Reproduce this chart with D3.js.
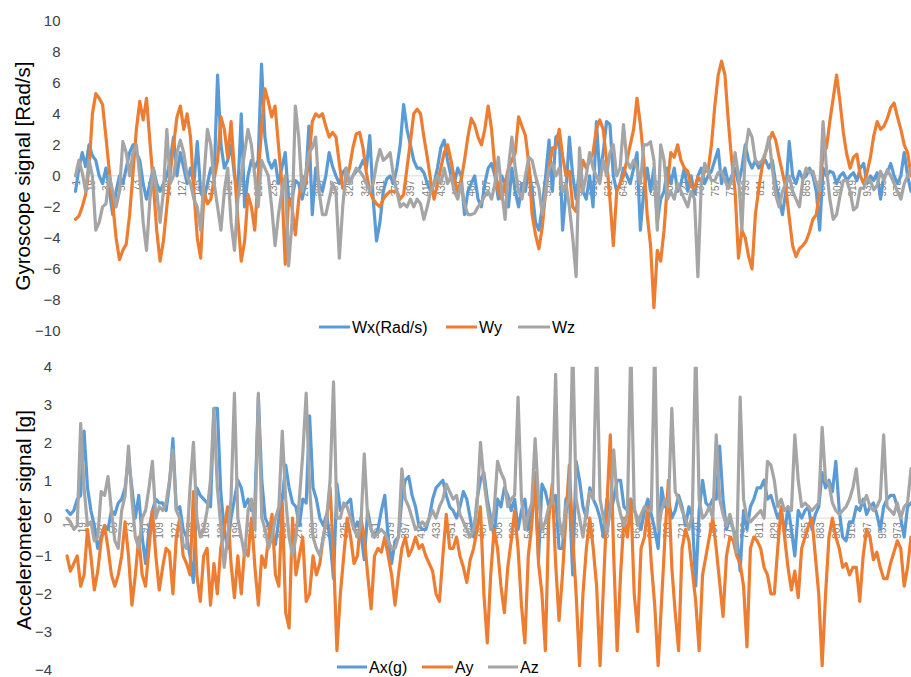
<!DOCTYPE html>
<html>
<head>
<meta charset="utf-8">
<script src="https://cdn.jsdelivr.net/npm/d3@7"></script>
<style>
  body { margin: 0; background: #ffffff; }
  svg text { font-family: "Liberation Sans", Arial, sans-serif; }
</style>
</head>
<body>
<svg id="chart" width="911" height="677"></svg>
<script>
// ---- data -------------------------------------------------------------
// One stored value every `sampleStep` samples (sample 1, 5, 9, ... 989).
const sampleStep = 4;
const sampleCount = 989;

const xTickLabels = [1,19,37,55,73,91,109,127,145,163,181,199,217,235,253,271,289,307,325,343,
  361,379,397,415,433,451,469,487,505,523,541,559,577,595,613,631,649,667,685,703,721,739,757,
  775,793,811,829,847,865,883,901,919,937,955,973];

const gyroTicks = [-10,-8,-6,-4,-2,0,2,4,6,8,10];
const accTicks = [-4,-3,-2,-1,0,1,2,3,4];

const gyroNames = ["Wx(Rad/s)", "Wy", "Wz"];
const accNames = ["Ax(g)", "Ay", "Az"];

// Gyroscope (rad/s)
const wx = [
  -1.0,0.5,1.5,0.6,2.0,1.3,1.0,0.0,-0.5,0.5,
  -1.0,-2.5,-1.0,0.0,-0.5,0.5,1.5,2.0,1.5,1.0,
  -0.5,-1.5,-0.5,0.5,-0.5,-1.0,-0.5,0.0,1.0,2.5,
  0.0,1.5,0.5,-0.5,0.5,-0.5,2.2,-1.0,-1.5,-0.5,
  0.5,0.0,6.5,2.0,0.5,1.0,2.0,0.0,-1.0,4.0,
  -2.0,0.0,1.0,0.5,1.0,7.2,2.5,1.0,0.5,1.0,
  -0.5,0.5,1.5,-1.5,-1.5,-0.3,-0.5,-1.5,-0.5,3.2,
  -2.5,0.5,-0.5,-1.0,0.0,1.5,0.6,0.0,-0.5,0.2,
  0.5,-0.5,0.0,0.3,0.5,1.0,0.5,2.6,-1.5,-4.2,
  -3.0,-1.0,-0.2,0.0,-0.5,0.5,2.0,4.6,3.0,2.0,
  1.0,0.5,0.5,0.2,-0.5,-1.0,-0.5,0.5,1.8,2.3,
  1.0,0.0,-0.5,0.5,
  0.0,-2.5,-1.0,-0.5,0.0,-1.5,
  -2.0,-0.5,0.5,0.8,0.0,-1.5,0.0,-0.5,-2.0,0.5,
  -1.0,-2.0,-0.5,-1.0,0.5,-1.0,-3.0,-3.5,-2.0,0.0,
  2.3,-1.0,2.5,2.7,-3.5,-1.0,2.5,0.0,-1.5,0.5,
  -1.0,-1.5,0.0,-2.0,3.5,0.0,1.5,3.5,3.3,0.0,
  -1.0,-0.5,0.5,0.0,-0.5,0.5,1.5,-3.5,-1.0,0.5,
  -1.0,0.5,-3.0,-1.5,-1.0,0.5,-0.5,0.5,-1.0,-0.5,
  0.5,-1.0,0.0,-1.2,0.0,0.5,-0.5,0.0,0.3,1.0,
  1.7,-0.5,0.5,-0.5,0.0,0.5,-0.5,0.5,2.0,1.0,
  0.5,1.0,0.5,0.8,1.0,0.5,1.0,-0.5,-1.5,-2.5,
  -1.0,2.2,0.0,-0.5,0.3,-0.2,0.0,0.5,0.0,-1.0,
  -3.5,0.5,0.0,0.3,0.2,-0.5,0.0,0.2,-0.3,0.0,
  0.2,-0.3,0.5,0.8,-0.5,0.0,-0.3,0.2,-1.5,0.0,
  0.2,0.8,0.0,-0.5,0.0,1.5,0.0,-1.0
];
const wy = [
  -2.8,-2.6,-2.0,-1.2,0.5,4.0,5.3,5.0,4.6,2.5,
  0.3,-1.8,-4.0,-5.4,-4.8,-4.4,-2.5,0.2,3.0,4.8,
  3.6,5.0,2.2,-0.5,-3.5,-5.5,-4.2,-2.0,0.2,2.0,
  3.8,4.5,3.0,4.0,2.5,-1.0,-4.0,-5.3,-1.0,-1.8,
  -1.5,-0.2,1.0,3.8,3.0,1.2,3.5,0.3,-2.8,-5.5,
  -4.2,-1.2,-2.0,-3.5,0.0,3.0,5.6,4.8,3.8,4.5,
  2.0,-0.5,-5.7,-1.5,-2.0,-3.8,-1.5,0.0,-0.5,1.0,
  3.5,4.0,3.8,4.0,3.2,2.5,2.8,2.5,0.8,-0.8,
  -0.3,0.5,1.8,2.7,2.8,1.8,0.2,-1.0,-1.5,-1.8,
  -2.0,-1.5,-1.2,-1.0,-1.0,-1.0,-1.5,-1.2,0.5,2.2,
  4.0,4.3,4.0,2.5,1.2,-0.3,-1.5,-0.5,0.5,1.5,
  2.0,1.0,-0.2,-1.0,
  -0.3,1.0,2.5,3.7,3.3,2.5,
  2.0,3.0,4.5,3.0,0.5,-1.0,-1.5,-0.5,0.5,1.0,
  1.5,3.8,3.2,2.6,0.8,-2.5,-3.8,-4.7,-3.3,-1.0,
  0.5,1.8,1.8,3.0,1.3,0.0,0.3,-2.0,-2.3,-0.5,
  1.0,0.5,1.0,1.5,3.0,3.6,3.0,1.0,-1.5,-4.5,
  -1.0,-0.5,0.0,1.0,2.0,3.0,5.0,3.3,1.0,-2.5,
  -4.5,-8.5,-4.8,-5.5,-3.5,-0.5,1.5,1.2,2.0,1.0,
  0.5,0.3,-0.7,-0.8,-0.1,-0.3,0.3,0.3,2.0,4.5,
  6.5,7.4,6.5,3.5,1.0,-1.0,-5.3,-3.5,-4.0,-5.2,
  -6.0,-2.5,-0.8,0.6,1.5,2.2,2.8,2.3,1.2,0.2,
  -0.8,-2.7,-4.5,-5.2,-4.7,-4.5,-4.2,-3.6,-2.8,-2.5,
  -1.0,1.5,1.8,3.5,5.0,6.5,4.8,2.8,1.4,0.5,
  1.2,1.4,0.0,-0.5,0.2,1.2,2.6,3.5,3.0,3.2,
  3.7,4.4,4.7,3.8,3.0,2.0,1.5,0.0
];
const wz = [
  0.0,1.0,0.2,-1.0,1.0,0.0,-3.5,-3.0,-2.0,-1.8,
  0.0,-1.0,-2.0,-1.0,2.2,1.5,0.0,1.5,2.0,0.0,
  -3.0,-4.8,-1.5,0.5,-1.0,-3.0,-1.0,3.0,-0.5,0.0,
  1.5,2.3,1.5,0.0,-0.5,-1.5,-2.0,-3.5,0.0,3.0,
  2.0,-0.5,-2.0,-3.5,-1.0,0.5,-3.0,-4.8,-1.5,0.0,
  1.5,3.0,2.0,0.0,-2.0,1.0,0.5,0.0,-2.0,-4.5,
  -2.5,-1.0,0.0,-5.8,-3.0,4.5,2.5,-1.0,0.0,1.5,
  1.8,2.5,-1.0,-2.5,-2.5,-1.5,-0.5,-1.0,-5.3,-2.0,
  0.5,-0.5,0.0,0.5,0.3,0.0,-0.5,-1.0,-0.5,0.8,
  1.7,1.0,1.2,1.5,0.0,-1.0,-2.0,-1.8,-2.0,-1.5,
  -2.0,-1.5,-1.8,-2.8,-2.0,-1.0,-0.5,0.0,-0.5,0.5,
  -0.5,0.0,-1.0,-1.5,
  -0.5,-1.8,-2.5,-2.5,-2.4,-2.0,
  -1.7,-1.3,-1.0,-1.5,-0.5,1.2,-1.0,-2.8,0.5,2.5,
  0.5,-1.0,-1.5,0.0,1.2,1.0,0.0,-0.8,-2.5,-1.0,
  0.5,0.8,0.0,0.5,-1.0,-0.5,-2.0,-4.0,-6.5,1.8,
  -1.0,0.0,1.5,0.5,0.0,-0.5,1.0,0.0,1.5,2.0,
  0.0,0.5,3.3,1.0,0.5,1.0,0.5,-0.5,2.0,2.0,
  2.2,1.0,-3.5,2.0,1.0,-1.5,-1.0,-1.5,-0.5,-1.0,
  -1.5,-2.0,-1.0,-1.5,-6.5,-0.5,0.8,0.3,-0.3,-0.3,
  0.2,0.3,-0.3,-0.8,-0.3,1.5,0.0,-3.5,1.5,3.0,
  2.5,1.0,0.8,1.0,1.5,2.5,0.5,-1.2,-2.0,-1.0,
  -0.5,0.0,-1.0,-1.5,-2.0,-0.3,0.5,0.2,0.3,-0.5,
  -1.0,3.5,0.5,-1.5,-2.8,-2.5,-1.3,-0.3,-0.3,-1.0,
  -2.2,-2.0,-0.8,-0.8,-0.2,-0.3,-0.9,-0.6,0.3,-0.3,
  0.4,0.0,-0.5,-1.0,-1.5,-0.5,0.0,0.5
];

// Accelerometer (g)
const ax = [
  0.2,0.1,0.2,0.5,0.6,2.3,0.8,0.2,-0.2,-0.8,
  -0.5,-0.2,-0.3,0.2,0.1,0.4,0.5,0.8,1.6,0.8,
  0.0,0.6,-0.5,-1.2,-0.3,0.2,0.5,0.4,0.4,0.2,
  0.9,2.1,0.2,0.3,-0.3,-0.5,-1.0,-1.7,0.8,0.6,
  0.5,0.4,0.3,2.9,2.9,0.7,-0.3,-0.8,0.0,0.5,
  1.0,0.8,0.3,0.5,0.2,0.4,3.2,1.0,0.0,-0.2,
  -0.5,-0.7,0.0,0.5,1.4,0.8,0.4,0.3,-0.2,0.5,
  0.4,2.7,0.8,0.5,0.0,-0.2,0.1,-0.6,-1.6,0.9,
  0.2,0.3,0.4,0.5,-0.3,-0.1,-0.4,-1.1,0.2,-0.3,
  -0.5,-0.3,0.2,0.6,-0.5,-1.2,-0.6,-0.5,0.5,1.0,
  1.1,0.6,0.3,-0.2,-0.3,-0.3,0.0,0.5,0.8,0.9,
  1.0,0.6,0.3,0.2,0.0,
  0.3,0.7,0.5,0.0,-0.5,
  0.5,1.0,1.2,0.5,0.0,-0.5,0.5,0.3,0.8,0.6,
  0.2,0.5,-0.3,0.2,0.5,-0.3,0.2,0.8,-1.1,0.9,
  0.7,0.3,0.4,0.6,-0.8,-0.8,0.5,0.6,-1.5,1.5,
  1.0,0.3,0.0,0.8,0.5,0.3,0.0,-0.5,0.5,0.1,
  0.5,1.0,1.0,0.3,0.2,0.5,0.2,0.0,-0.3,0.2,
  0.5,0.1,-0.3,-0.8,0.8,0.3,0.5,0.0,0.2,0.6,
  0.3,-0.2,0.3,0.0,-1.8,0.2,1.0,0.4,0.3,0.5,
  0.5,1.9,0.5,-0.3,0.0,-0.3,-0.5,-1.4,0.2,-0.3,
  0.3,0.5,0.8,0.8,1.0,0.5,0.6,0.3,0.0,0.2,
  -0.4,0.3,-0.3,-1.0,0.2,0.0,0.2,0.3,-0.3,0.1,
  0.3,1.2,0.8,1.0,0.7,1.5,0.2,-0.5,-0.6,-0.1,
  -0.1,0.3,0.2,0.5,0.1,0.3,0.4,0.1,-0.3,0.3,
  0.5,0.6,0.6,0.3,0.0,-0.5,0.3,0.4
];
const ay = [
  -1.0,-1.4,-1.2,-1.0,-1.8,-1.5,-0.3,-1.0,-1.9,-1.4,
  -0.6,-0.2,-0.8,-1.5,-1.8,-1.5,-1.0,-0.1,-1.0,-2.3,
  -1.5,-0.5,-1.5,-1.8,-0.8,0.2,-1.0,-1.9,-1.3,-0.8,
  -0.9,-2.0,-0.5,0.0,-1.0,-1.2,-1.5,0.7,-1.5,-2.2,
  -1.0,-0.8,-2.3,-1.2,-2.0,-0.8,-0.3,0.3,-1.2,-2.1,
  -1.0,-2.0,-0.8,-1.0,0.0,-1.3,-2.3,-1.0,-1.3,-0.5,
  0.1,-1.5,-1.8,0.4,-2.5,-2.9,0.0,-1.5,-1.0,-0.5,
  -2.2,-2.0,-1.0,-1.5,-1.2,-0.5,0.0,0.8,-1.0,-3.5,
  -2.0,-1.0,0.0,-0.5,-1.2,-1.0,0.0,-0.5,-1.5,-2.4,
  -1.0,-0.8,-0.9,-0.5,-1.0,-1.5,-2.3,-1.5,-0.8,-0.5,
  -1.0,-0.8,-0.5,-0.8,-0.7,-1.0,-1.2,-1.4,-2.0,-2.2,
  -1.0,0.1,-0.8,-0.8,-0.5,
  -1.0,-1.3,-1.7,-1.1,-0.8,
  -0.3,0.3,-2.0,-3.3,-1.5,-0.3,-0.8,-1.8,-2.5,-1.3,
  -0.6,0.2,-0.8,-2.3,-3.3,-1.0,-0.2,1.2,-1.2,-2.0,
  -3.5,0.0,0.9,-1.2,-2.7,-1.5,0.0,1.4,-0.5,-2.0,
  -3.9,-2.0,-0.8,0.0,-0.8,-1.8,-3.9,-1.8,0.3,2.2,
  -1.0,-3.5,-1.5,0.0,-0.5,0.5,-2.0,-3.0,-0.8,-0.5,
  0.3,-1.2,-2.3,-3.9,-2.2,-0.5,1.0,-1.3,-2.5,-3.5,
  -0.8,-0.3,-0.6,-1.4,-2.2,-3.5,-1.5,-1.0,-0.5,0.0,
  -0.8,-1.7,-2.6,-1.0,-0.5,-0.6,-1.0,-1.2,-1.8,-3.4,
  -0.8,-0.5,-0.6,-0.8,-1.3,-1.5,-2.0,-2.0,-0.8,0.3,
  -0.5,-1.3,-1.9,-1.4,-2.1,-0.8,-0.5,-0.2,0.0,-1.0,
  -2.0,-3.9,-2.0,-0.5,0.0,-0.5,-0.8,-1.3,-1.2,-1.5,
  -1.3,-1.3,-2.2,-1.0,-0.3,-0.5,-1.1,-0.9,-1.3,-1.6,
  -1.6,-1.2,-0.9,-0.6,-0.8,-1.8,-1.3,-0.5
];
const az = [
  0.0,-0.1,-0.3,-0.2,2.5,0.8,-0.2,-0.1,-0.6,-0.5,
  0.7,0.6,1.1,0.2,-0.6,-0.8,0.2,0.6,1.9,0.5,
  -0.5,-0.8,0.0,0.2,0.8,1.5,0.0,0.3,0.2,0.4,
  1.0,1.8,0.2,0.0,-0.7,-0.8,0.8,2.0,0.0,-0.5,
  -0.3,0.2,1.0,2.9,0.8,-0.2,-1.3,-0.5,0.5,3.3,
  0.0,-0.5,-1.0,0.2,0.5,-0.3,3.3,0.0,-0.3,-0.8,
  -0.5,0.0,0.3,2.3,0.5,-0.5,-1.0,-0.5,0.5,1.7,
  3.3,0.8,-0.5,-0.8,-1.0,-0.5,0.0,1.0,3.6,0.0,
  0.0,0.4,0.3,0.0,-0.3,-0.5,-0.2,1.7,0.0,-0.3,
  -0.5,-0.4,-0.3,-0.4,-0.6,-0.8,-0.8,-0.5,1.3,0.5,
  0.3,0.0,-0.3,-0.2,-0.1,-0.2,0.0,0.2,0.0,0.3,
  0.5,0.9,0.7,0.5,0.6,
  0.1,-0.1,-0.3,-0.5,-0.3,
  0.3,2.0,1.0,0.3,-0.3,0.2,1.5,1.2,1.0,0.3,
  0.5,0.6,3.2,0.5,-0.3,0.1,0.4,2.1,0.5,-0.3,
  -0.1,0.3,0.4,3.8,0.0,-0.5,0.3,0.5,4.6,0.5,
  0.0,-0.5,0.2,0.7,0.5,4.6,0.5,0.0,-0.4,0.2,
  1.8,0.5,0.1,-0.2,0.1,4.6,0.3,-0.2,0.1,0.3,
  0.2,0.2,4.6,-0.3,0.2,0.5,0.3,2.9,0.7,0.5,
  0.2,0.0,-0.3,0.1,4.6,0.5,0.0,0.1,0.3,0.0,
  2.2,0.5,0.1,-0.2,0.1,-0.3,-0.9,3.2,0.5,0.0,
  -0.1,0.0,0.1,0.2,0.0,1.5,1.4,1.0,0.3,0.5,
  0.2,0.3,0.2,2.2,1.0,0.3,0.4,0.3,0.2,0.3,
  0.4,2.4,1.0,0.9,0.4,0.2,0.1,0.2,0.3,0.5,
  0.8,1.3,0.4,0.4,0.6,0.3,0.2,0.3,0.5,2.2,
  0.3,0.2,0.1,0.4,0.0,0.3,0.4,1.3
];

// ---- drawing ----------------------------------------------------------
const colors = ["#5B9BD5", "#ED7D31", "#A5A5A5"];
const svg = d3.select("#chart");

const panels = [
  {
    id: "gyro", left: 75.5, right: 911, top: 20.7, bottom: 331,
    domain: [-10, 10], ticks: gyroTicks,
    title: "Gyroscope signal [Rad/s]", titleX: 30, titleY: 176,
    series: [wx, wy, wz], names: gyroNames,
    legendY: 327,
    legend: [{x1: 319, x2: 350}, {x1: 446, x2: 477}, {x1: 518, x2: 550}]
  },
  {
    id: "acc", left: 67, right: 911, top: 366.7, bottom: 669.5,
    domain: [-4, 4], ticks: accTicks,
    title: "Accelerometer signal [g]", titleX: 31, titleY: 520,
    series: [ax, ay, az], names: accNames,
    legendY: 667,
    legend: [{x1: 337, x2: 367}, {x1: 422, x2: 453}, {x1: 488, x2: 518}]
  }
];

panels.forEach(p => {
  const x = d3.scaleLinear().domain([1, sampleCount]).range([p.left, p.right]);
  const y = d3.scaleLinear().domain(p.domain).range([p.bottom, p.top]);
  const g = svg.append("g").attr("class", "panel-" + p.id);

  svg.append("clipPath").attr("id", "clip-" + p.id)
    .append("rect")
    .attr("x", p.left - 2).attr("y", p.top)
    .attr("width", p.right - p.left + 4).attr("height", p.bottom - p.top);

  // y axis labels
  const yAxis = d3.axisLeft(y).tickValues(p.ticks).tickSize(0).tickPadding(15)
    .tickFormat(d3.format("d"));
  const ya = g.append("g").attr("transform", `translate(${p.left},0)`).call(yAxis);
  ya.select(".domain").remove();
  ya.selectAll("text").style("font-size", "15px").attr("fill", "#404040")
    .style("font-family", '"Liberation Sans", Arial, sans-serif');

  // zero line
  g.append("line")
    .attr("x1", p.left).attr("x2", p.right)
    .attr("y1", y(0)).attr("y2", y(0))
    .attr("stroke", "#D9D9D9").attr("stroke-width", 1);

  // category labels along the zero line
  const xAxis = d3.axisBottom(x).tickValues(xTickLabels).tickSize(0)
    .tickFormat(d3.format("d"));
  const xa = g.append("g").attr("transform", `translate(0,${y(0)})`).call(xAxis);
  xa.select(".domain").remove();
  xa.selectAll("text")
    .attr("y", 0).attr("x", -4).attr("dy", "0.35em")
    .attr("transform", "rotate(-90)")
    .style("text-anchor", "end")
    .style("font-size", "10px")
    .style("font-family", '"Liberation Sans", Arial, sans-serif')
    .attr("fill", "#808080");

  // series lines
  const line = d3.line()
    .x((d, i) => x(1 + i * sampleStep))
    .y(d => y(d));
  const lines = g.append("g").attr("clip-path", `url(#clip-${p.id})`);
  p.series.forEach((s, k) => {
    lines.append("path")
      .datum(s)
      .attr("d", line)
      .attr("fill", "none")
      .attr("stroke", colors[k])
      .attr("stroke-width", 3.2)
      .attr("stroke-linejoin", "round")
      .attr("stroke-linecap", "round");
  });

  // axis title
  g.append("text")
    .attr("transform", `translate(${p.titleX},${p.titleY}) rotate(-90)`)
    .attr("text-anchor", "middle")
    .style("font-size", "20.5px")
    .attr("fill", "#000000")
    .text(p.title);

  // legend
  const lg = g.append("g");
  p.legend.forEach((it, k) => {
    lg.append("line")
      .attr("x1", it.x1).attr("x2", it.x2)
      .attr("y1", p.legendY).attr("y2", p.legendY)
      .attr("stroke", colors[k]).attr("stroke-width", 3);
    lg.append("text")
      .attr("x", it.x2 + 2).attr("y", p.legendY)
      .attr("dy", "0.36em")
      .style("font-size", "16px")
      .attr("fill", "#000000")
      .text(p.names[k]);
  });
});
</script>
</body>
</html>
